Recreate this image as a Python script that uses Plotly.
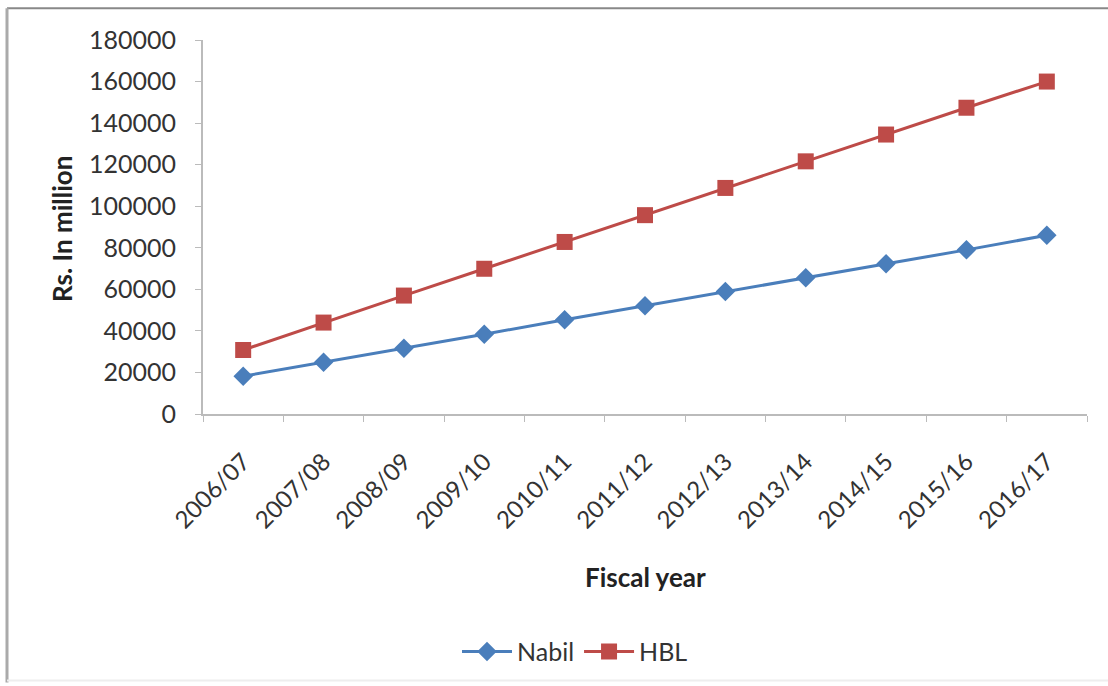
import plotly.graph_objects as go

years = ["2006/07", "2007/08", "2008/09", "2009/10", "2010/11", "2011/12",
         "2012/13", "2013/14", "2014/15", "2015/16", "2016/17"]
nabil = [18200, 24900, 31600, 38400, 45400, 52100, 58900, 65600, 72300, 79000, 86000]
hbl = [30800, 44000, 57000, 69900, 82800, 95700, 108800, 121600, 134500, 147400, 160000]

BLUE = "#4A7EBB"
RED = "#BE4B48"
FONT = "Lato"

fig = go.Figure()
fig.add_trace(go.Scatter(x=years, y=nabil, name="Nabil", mode="lines+markers",
                         line=dict(color=BLUE, width=3),
                         marker=dict(symbol="diamond", size=15, color=BLUE)))
fig.add_trace(go.Scatter(x=years, y=hbl, name="HBL", mode="lines+markers",
                         line=dict(color=RED, width=3),
                         marker=dict(symbol="square", size=16, color=RED)))

L, R, T, B = 203, 21, 40, 270
W, H = 1108, 686
pw, ph = W - L - R, H - T - B

def px(x):
    return (x - L) / pw

def py(y):
    return (H - B - y) / ph

fig.update_layout(
    width=W, height=H,
    margin=dict(l=L, r=R, t=T, b=B),
    paper_bgcolor="white", plot_bgcolor="white",
    font=dict(family=FONT, size=24, color="#333333"),
    showlegend=True,
    legend=dict(orientation="h", x=px(575), y=py(655), xanchor="center", yanchor="middle",
                font=dict(family=FONT, size=25, color="#333333"),
                itemwidth=50, bgcolor="rgba(0,0,0,0)"),
    xaxis=dict(type="category", range=[-0.5, 10.5], tickangle=-45,
               showline=True, linecolor="#BBBBBB", linewidth=2,
               ticks="outside", tickson="boundaries", ticklen=6, tickcolor="#BBBBBB",
               ticklabelstandoff=22,
               showgrid=False, zeroline=False,
               tickfont=dict(family=FONT, size=24, color="#333333")),
    yaxis=dict(range=[0, 180000], tickvals=list(range(0, 180001, 20000)),
               ticktext=[str(v) for v in range(0, 180001, 20000)],
               showline=True, linecolor="#BBBBBB", linewidth=2,
               ticks="outside", ticklen=6, tickcolor="#BBBBBB",
               ticklabelstandoff=14,
               showgrid=False, zeroline=False,
               tickfont=dict(family=FONT, size=25, color="#333333")),
    annotations=[
        dict(text="<b>Rs. In million</b>", x=px(62), y=py(230), xref="paper", yref="paper",
             textangle=-90, showarrow=False, xanchor="center", yanchor="middle",
             font=dict(family=FONT, size=26, color="#222222")),
        dict(text="<b>Fiscal year</b>", x=px(645), y=py(580), xref="paper", yref="paper",
             showarrow=False, xanchor="center", yanchor="middle",
             font=dict(family=FONT, size=26, color="#222222")),
    ],
    shapes=[
        dict(type="line", xref="paper", yref="paper", x0=px(7), x1=px(1108), y0=py(8), y1=py(8),
             line=dict(color="#888888", width=2)),
        dict(type="line", xref="paper", yref="paper", x0=px(7), x1=px(7), y0=py(8), y1=py(686),
             line=dict(color="#AAAAAA", width=3)),
        dict(type="line", xref="paper", yref="paper", x0=px(7), x1=px(1108), y0=py(684), y1=py(684),
             line=dict(color="#EEEEEE", width=2)),
    ],
)

fig.write_html("out.html")
